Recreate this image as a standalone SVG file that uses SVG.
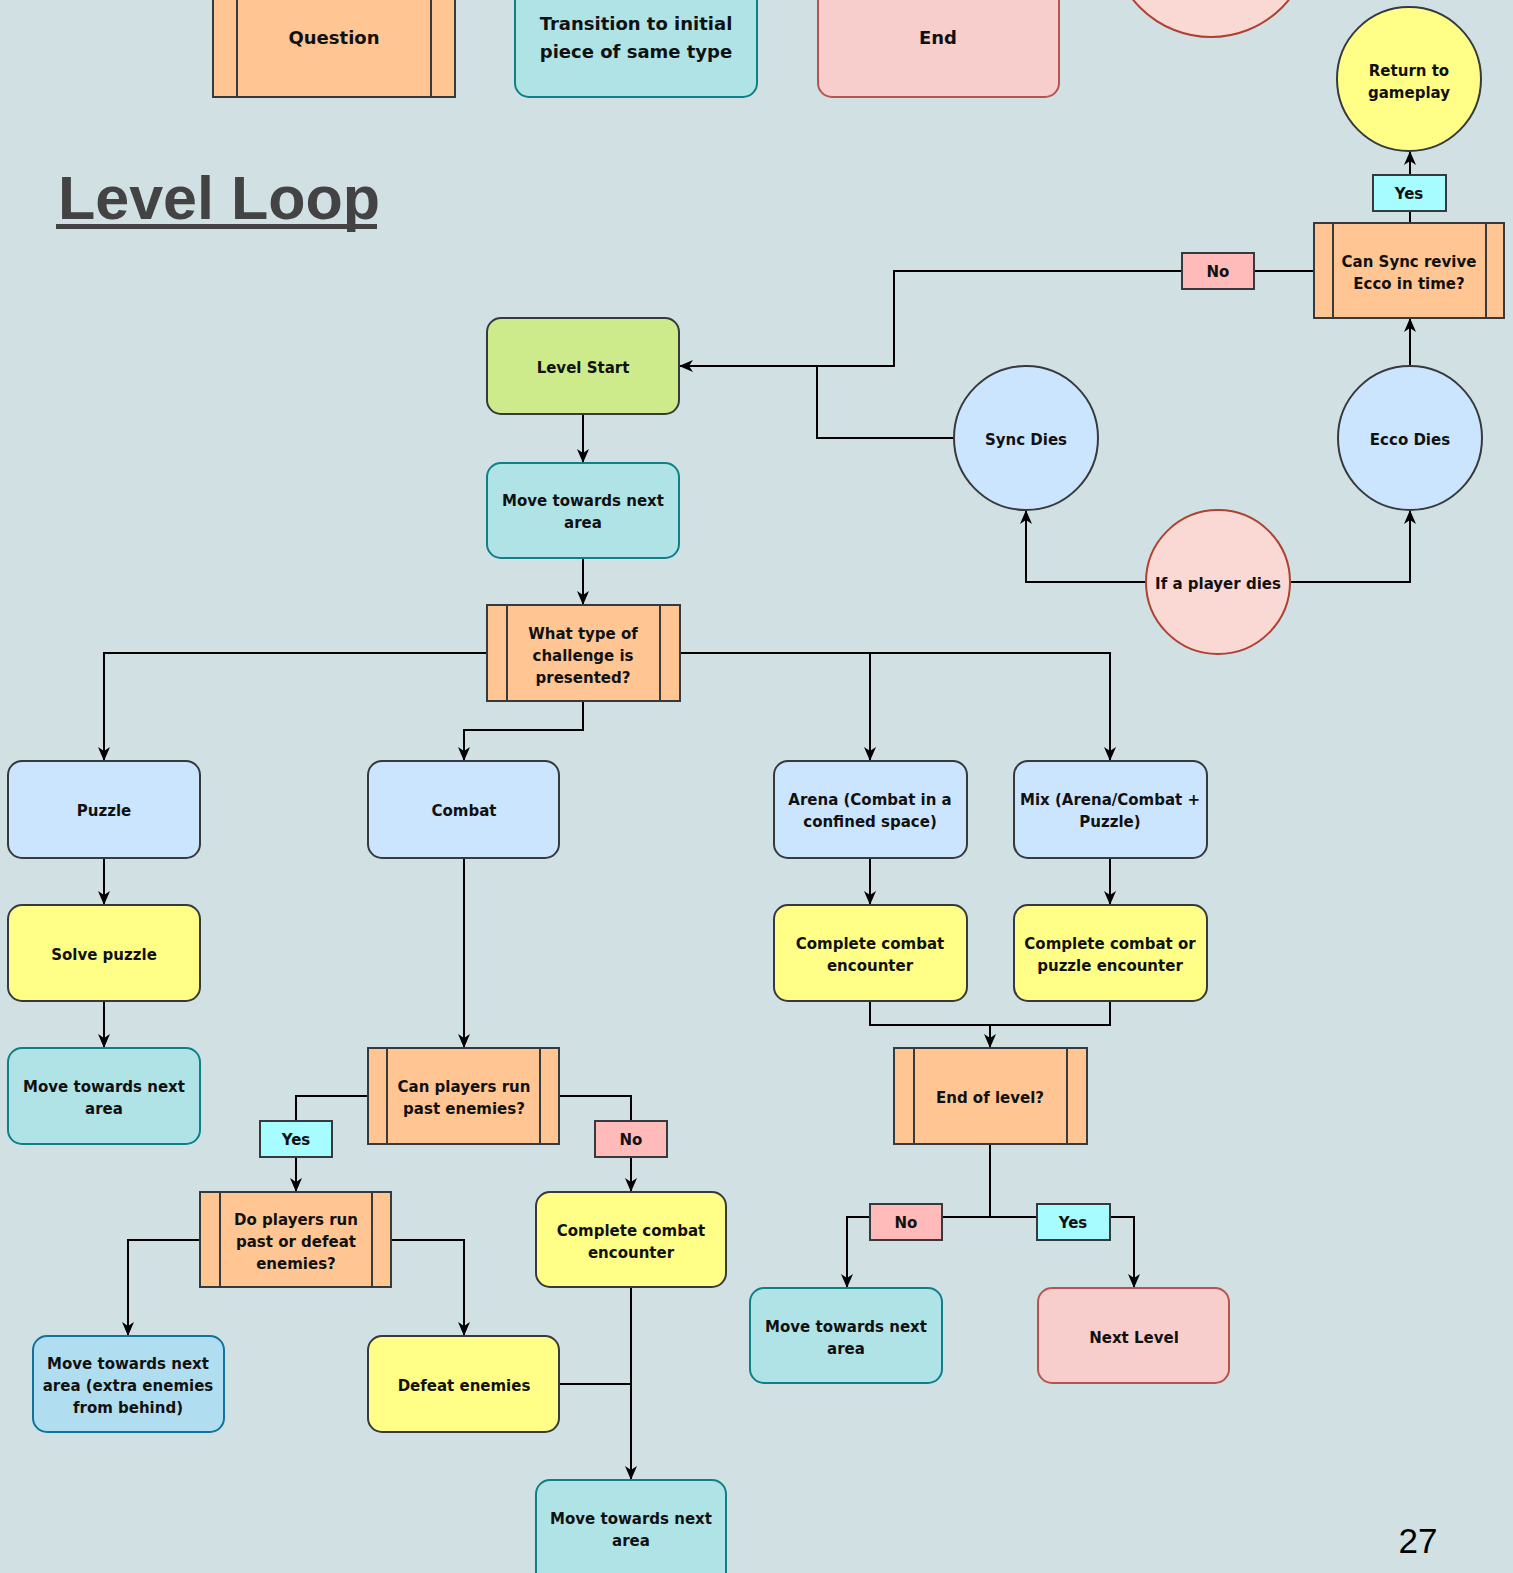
<svg xmlns="http://www.w3.org/2000/svg" width="1513" height="1573" viewBox="0 0 1513 1573">
<defs>
<style>
.t{font-family:"DejaVu Sans",Verdana,sans-serif;font-weight:bold;font-size:15px;fill:#111;text-anchor:middle}
.lg{font-size:18px}
.c{fill:none;stroke:#000;stroke-width:2}
.blue{fill:#cce5ff;stroke:#36393d;stroke-width:2}
.yel{fill:#ffff88;stroke:#36393d;stroke-width:2}
.ora{fill:#ffc693;stroke:#36393d;stroke-width:2}
.orl{fill:none;stroke:#36393d;stroke-width:2}
.grn{fill:#cdeb8b;stroke:#36393d;stroke-width:2}
.teal{fill:#b0e3e6;stroke:#0e8088;stroke-width:2}
.pink{fill:#f8cecc;stroke:#b85450;stroke-width:2}
.lblue{fill:#b1ddf0;stroke:#10739e;stroke-width:2}
.red{fill:#fad9d5;stroke:#ae4132;stroke-width:2}
.yes{fill:#a6fcff;stroke:#36393d;stroke-width:2}
.no{fill:#ffbaba;stroke:#36393d;stroke-width:2}
</style>
<marker id="arr" viewBox="0 0 14 14" refX="13" refY="7" markerWidth="14" markerHeight="14" orient="auto" markerUnits="userSpaceOnUse">
<path d="M0,1 L14,7 L0,13 L4,7 z" fill="#000"/>
</marker>
</defs>
<rect x="0" y="0" width="1513" height="1573" fill="#d0e0e3"/>

<!-- legend -->
<g id="legend-question"><rect class="ora" x="213" y="-20" width="242" height="117"/><line class="orl" x1="237" y1="-20" x2="237" y2="97"/><line class="orl" x1="431" y1="-20" x2="431" y2="97"/><text class="t lg" x="334" y="44">Question</text></g>
<g id="legend-transition"><rect class="teal" x="515" y="-20" width="242" height="117" rx="14"/><text class="t lg" x="636" y="30">Transition to initial</text><text class="t lg" x="636" y="58">piece of same type</text></g>
<g id="legend-end"><rect class="pink" x="818" y="-20" width="241" height="117" rx="14"/><text class="t lg" x="938" y="44">End</text></g>
<g id="legend-circle"><circle class="red" cx="1211" cy="-63" r="100"/></g>

<g id="title"><text x="58" y="219" font-family="Liberation Sans,Arial,sans-serif" font-weight="bold" font-size="61" fill="#434343">Level Loop</text><rect x="56" y="224" width="321" height="5" fill="#434343"/></g>

<g id="connectors">
<path class="c" d="M583,414 V462" marker-end="url(#arr)"/>
<path class="c" d="M583,558 V604" marker-end="url(#arr)"/>
<path class="c" d="M487,653 H104 V760" marker-end="url(#arr)"/>
<path class="c" d="M583,701 V730 H464 V760" marker-end="url(#arr)"/>
<path class="c" d="M680,653 H870 V760" marker-end="url(#arr)"/>
<path class="c" d="M870,653 H1110 V760" marker-end="url(#arr)"/>
<path class="c" d="M104,858 V904" marker-end="url(#arr)"/>
<path class="c" d="M104,1001 V1047" marker-end="url(#arr)"/>
<path class="c" d="M464,858 V1047" marker-end="url(#arr)"/>
<path class="c" d="M368,1096 H296 V1191" marker-end="url(#arr)"/>
<path class="c" d="M559,1096 H631 V1191" marker-end="url(#arr)"/>
<path class="c" d="M200,1240 H128 V1335" marker-end="url(#arr)"/>
<path class="c" d="M391,1240 H464 V1335" marker-end="url(#arr)"/>
<path class="c" d="M631,1287 V1479" marker-end="url(#arr)"/>
<path class="c" d="M559,1384 H631"/>
<path class="c" d="M870,858 V904" marker-end="url(#arr)"/>
<path class="c" d="M1110,858 V904" marker-end="url(#arr)"/>
<path class="c" d="M870,1001 V1025 H990 V1047" marker-end="url(#arr)"/>
<path class="c" d="M1110,1001 V1025 H990"/>
<path class="c" d="M990,1144 V1217 H847 V1287" marker-end="url(#arr)"/>
<path class="c" d="M990,1217 H1134 V1287" marker-end="url(#arr)"/>
<path class="c" d="M1147,582 H1026 V511" marker-end="url(#arr)"/>
<path class="c" d="M1289,582 H1410 V511" marker-end="url(#arr)"/>
<path class="c" d="M1410,366 V319" marker-end="url(#arr)"/>
<path class="c" d="M1410,223 V152" marker-end="url(#arr)"/>
<path class="c" d="M1314,271 H894 V366 H680" marker-end="url(#arr)"/>
<path class="c" d="M954,438 H817 V366"/>
</g>

<g id="level-start"><rect class="grn" x="487" y="318" width="192" height="96" rx="14"/><text class="t" x="583" y="373">Level Start</text></g>
<g id="move-1"><rect class="teal" x="487" y="463" width="192" height="95" rx="14"/><text class="t" x="583" y="506">Move towards next</text><text class="t" x="583" y="528">area</text></g>
<g id="what-type"><rect class="ora" x="487" y="605" width="193" height="96"/><line class="orl" x1="507" y1="605" x2="507" y2="701"/><line class="orl" x1="660" y1="605" x2="660" y2="701"/><text class="t" x="583" y="639">What type of</text><text class="t" x="583" y="661">challenge is</text><text class="t" x="583" y="683">presented?</text></g>

<g id="puzzle"><rect class="blue" x="8" y="761" width="192" height="97" rx="14"/><text class="t" x="104" y="816">Puzzle</text></g>
<g id="combat"><rect class="blue" x="368" y="761" width="191" height="97" rx="14"/><text class="t" x="464" y="816">Combat</text></g>
<g id="arena"><rect class="blue" x="774" y="761" width="193" height="97" rx="14"/><text class="t" x="870" y="805">Arena (Combat in a</text><text class="t" x="870" y="827">confined space)</text></g>
<g id="mix"><rect class="blue" x="1014" y="761" width="193" height="97" rx="14"/><text class="t" x="1110" y="805">Mix (Arena/Combat +</text><text class="t" x="1110" y="827">Puzzle)</text></g>

<g id="solve-puzzle"><rect class="yel" x="8" y="905" width="192" height="96" rx="14"/><text class="t" x="104" y="960">Solve puzzle</text></g>
<g id="arena-complete"><rect class="yel" x="774" y="905" width="193" height="96" rx="14"/><text class="t" x="870" y="949">Complete combat</text><text class="t" x="870" y="971">encounter</text></g>
<g id="mix-complete"><rect class="yel" x="1014" y="905" width="193" height="96" rx="14"/><text class="t" x="1110" y="949">Complete combat or</text><text class="t" x="1110" y="971">puzzle encounter</text></g>

<g id="puzzle-move"><rect class="teal" x="8" y="1048" width="192" height="96" rx="14"/><text class="t" x="104" y="1092">Move towards next</text><text class="t" x="104" y="1114">area</text></g>
<g id="can-run"><rect class="ora" x="368" y="1048" width="191" height="96"/><line class="orl" x1="387" y1="1048" x2="387" y2="1144"/><line class="orl" x1="540" y1="1048" x2="540" y2="1144"/><text class="t" x="464" y="1092">Can players run</text><text class="t" x="464" y="1114">past enemies?</text></g>
<g id="end-of-level"><rect class="ora" x="894" y="1048" width="193" height="96"/><line class="orl" x1="914" y1="1048" x2="914" y2="1144"/><line class="orl" x1="1067" y1="1048" x2="1067" y2="1144"/><text class="t" x="990" y="1103">End of level?</text></g>

<g id="do-run"><rect class="ora" x="200" y="1192" width="191" height="95"/><line class="orl" x1="220" y1="1192" x2="220" y2="1287"/><line class="orl" x1="372" y1="1192" x2="372" y2="1287"/><text class="t" x="296" y="1225">Do players run</text><text class="t" x="296" y="1247">past or defeat</text><text class="t" x="296" y="1269">enemies?</text></g>
<g id="combat-complete"><rect class="yel" x="536" y="1192" width="190" height="95" rx="14"/><text class="t" x="631" y="1236">Complete combat</text><text class="t" x="631" y="1258">encounter</text></g>

<g id="end-move"><rect class="teal" x="750" y="1288" width="192" height="95" rx="14"/><text class="t" x="846" y="1332">Move towards next</text><text class="t" x="846" y="1354">area</text></g>
<g id="next-level"><rect class="pink" x="1038" y="1288" width="191" height="95" rx="14"/><text class="t" x="1134" y="1343">Next Level</text></g>

<g id="extra-enemies"><rect class="lblue" x="33" y="1336" width="191" height="96" rx="14"/><text class="t" x="128" y="1369">Move towards next</text><text class="t" x="128" y="1391">area (extra enemies</text><text class="t" x="128" y="1413">from behind)</text></g>
<g id="defeat"><rect class="yel" x="368" y="1336" width="191" height="96" rx="14"/><text class="t" x="464" y="1391">Defeat enemies</text></g>
<g id="combat-move"><rect class="teal" x="536" y="1480" width="190" height="110" rx="14"/><text class="t" x="631" y="1524">Move towards next</text><text class="t" x="631" y="1546">area</text></g>

<g id="sync-dies"><circle class="blue" cx="1026" cy="438" r="72"/><text class="t" x="1026" y="445">Sync Dies</text></g>
<g id="ecco-dies"><circle class="blue" cx="1410" cy="438" r="72"/><text class="t" x="1410" y="445">Ecco Dies</text></g>
<g id="player-dies"><circle class="red" cx="1218" cy="582" r="72"/><text class="t" x="1218" y="589">If a player dies</text></g>
<g id="return"><circle class="yel" cx="1409" cy="79" r="72"/><text class="t" x="1409" y="76">Return to</text><text class="t" x="1409" y="98">gameplay</text></g>
<g id="can-sync"><rect class="ora" x="1314" y="223" width="190" height="95"/><line class="orl" x1="1333" y1="223" x2="1333" y2="318"/><line class="orl" x1="1486" y1="223" x2="1486" y2="318"/><text class="t" x="1409" y="267">Can Sync revive</text><text class="t" x="1409" y="289">Ecco in time?</text></g>

<g id="labels">
<g id="lbl-yes-top"><rect class="yes" x="1373" y="175" width="73" height="36"/><text class="t" x="1409" y="199">Yes</text></g>
<g id="lbl-no-top"><rect class="no" x="1182" y="253" width="72" height="36"/><text class="t" x="1218" y="277">No</text></g>
<g id="lbl-yes-run"><rect class="yes" x="260" y="1121" width="72" height="36"/><text class="t" x="296" y="1145">Yes</text></g>
<g id="lbl-no-run"><rect class="no" x="595" y="1121" width="72" height="36"/><text class="t" x="631" y="1145">No</text></g>
<g id="lbl-no-end"><rect class="no" x="870" y="1204" width="72" height="36"/><text class="t" x="906" y="1228">No</text></g>
<g id="lbl-yes-end"><rect class="yes" x="1037" y="1204" width="73" height="36"/><text class="t" x="1073" y="1228">Yes</text></g>
</g>

<text x="1418" y="1553" font-family="Liberation Sans,Arial,sans-serif" font-size="35" fill="#000" text-anchor="middle">27</text>
</svg>
